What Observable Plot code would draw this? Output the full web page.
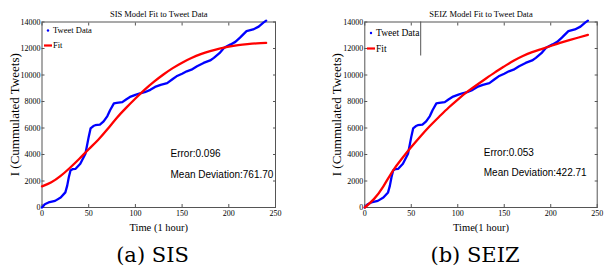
<!DOCTYPE html>
<html><head><meta charset="utf-8">
<script src="https://cdn.jsdelivr.net/npm/d3@7"></script>
<script src="https://cdn.jsdelivr.net/npm/@observablehq/plot@0.6"></script>
<style>
body{margin:0;background:#fff;}
#wrap{position:relative;width:613px;height:272px;overflow:hidden;background:#fff;}
.panel{position:absolute;top:0;}
#over{position:absolute;left:0;top:0;}
</style></head><body>
<div id="wrap"><div id="pa" class="panel" style="left:0px"></div><div id="pb" class="panel" style="left:306px"></div></div>
<script>
// ---- data ----
const tweetHours  = [0,3,7,14,20,25,27,28.7,30.5,33,36,41,46.5,50,52,55,57,62,66,70,73,77,80,86,90,95,100,105,110,116,121,127,134,140,144,150,155,160,166,173,180,184,190,195,202,207,212,219,226,232,237,240];
const tweetCounts = [0,250,380,500,750,1140,1650,2280,2790,2900,2920,3300,4060,5330,5970,6150,6210,6250,6500,6900,7360,7860,7900,7950,8150,8370,8500,8620,8700,8880,9100,9260,9390,9700,9900,10100,10280,10400,10660,10910,11100,11290,11650,12060,12310,12500,12820,13310,13440,13650,13950,14100];
const fitHours = [0,10,20,30,40,50,60,70,80,90,100,110,120,130,140,150,160,170,180,190,200,210,220,230,240];
const sisFit  = [1590,1900,2380,3000,3680,4400,5100,5900,6760,7520,8230,8900,9500,10040,10520,10930,11280,11570,11800,11990,12140,12250,12330,12390,12420];
const seizFit = [0,650,1600,2750,3700,4560,5380,6150,6850,7530,8150,8720,9230,9720,10200,10650,11080,11440,11730,11960,12190,12420,12630,12830,13030];
const xTicks = [0,50,100,150,200,250];
const yTicks = [0,2000,4000,6000,8000,10000,12000,14000];
const titles = ["SIS Model Fit to Tweet Data","SEIZ Model Fit to Tweet Data"];
const xLabels = ["Time (1 hour)","Time(1 hour)"];
const yLabel = "I (Cummulated Tweets)";
const statsA = ["Error:0.096","Mean Deviation:761.70"];
const statsB = ["Error:0.053","Mean Deviation:422.71"];
const legendNames = ["Tweet Data","Fit"];
const captions = ["(a) SIS","(b) SEIZ"];

const tweet = tweetHours.map((t,i)=>({t, v: tweetCounts[i]}));
const fitA = fitHours.map((t,i)=>({t, v: sisFit[i]}));
const fitB = fitHours.map((t,i)=>({t, v: seizFit[i]}));

function panel({width, marginLeft, marginRight, title, xLabel, fit, stats, statAt}) {
  const serif = "Liberation Serif";
  return Plot.plot({
    width, height: 240, marginLeft, marginRight, marginTop: 21.5, marginBottom: 33,
    x: {domain: [0, 250], label: null},
    y: {domain: [0, 14000], label: null},
    style: {fontFamily: serif, fontSize: "8px", background: "transparent", overflow: "visible"},
    marks: [
      Plot.frame({stroke: "#555", strokeWidth: 1}),
      Plot.axisX({ticks: xTicks, tickSize: -3, tickPadding: 6, tickFormat: d => String(d), label: null, fontSize: 8, stroke: "#555"}),
      Plot.axisX({anchor: "top", ticks: xTicks, tickSize: -3, tickFormat: () => "", label: null, stroke: "#555"}),
      Plot.axisY({ticks: yTicks, tickSize: -3, tickPadding: 4.5, tickFormat: d => String(d), label: null, fontSize: 8, stroke: "#555"}),
      Plot.axisY({anchor: "right", ticks: yTicks, tickSize: -3, tickFormat: () => "", label: null, stroke: "#555"}),
      Plot.line(tweet, {x: "t", y: "v", stroke: "#0000ff", strokeWidth: 2.3, curve: "linear"}),
      Plot.line(fit, {x: "t", y: "v", stroke: "#ff0000", strokeWidth: 2.3, curve: "natural"}),
      Plot.text([title], {frameAnchor: "top", dy: -11.5, fontSize: 8.5, fontFamily: serif}),
      Plot.text([xLabel], {frameAnchor: "bottom", textAnchor: "middle", lineAnchor: "middle", dy: 20, fontSize: 10.5, fontFamily: serif}),
      Plot.text([yLabel], {frameAnchor: "left", textAnchor: "middle", lineAnchor: "middle", rotate: -90, dx: -27.5, fontSize: 13, fontFamily: serif}),
      Plot.text(stats, {x: () => statAt[0], y: (d, i) => statAt[1][i], text: d => d, textAnchor: "start", fontFamily: "Liberation Sans", fontSize: 10})
    ]
  });
}

document.getElementById("pa").append(panel({width: 306, marginLeft: 41.5, marginRight: 31, title: titles[0], xLabel: xLabels[0], fit: fitA, stats: statsA, statAt: [137.6, [4075, 2490]]}));
document.getElementById("pb").append(panel({width: 307, marginLeft: 58.3, marginRight: 16.3, title: titles[1], xLabel: xLabels[1], fit: fitB, stats: statsB, statAt: [128, [4128, 2619]]}));

// legends and captions overlay
const ns = "http://www.w3.org/2000/svg";
const over = document.createElementNS(ns, "svg");
over.setAttribute("id", "over"); over.setAttribute("width", 613); over.setAttribute("height", 272);
function el(tag, attrs, txt) { const e = document.createElementNS(ns, tag); for (const k in attrs) e.setAttribute(k, attrs[k]); if (txt) e.textContent = txt; over.appendChild(e); return e; }
// legend A
el("circle", {cx: 48, cy: 30.5, r: 1.2, fill: "#0000ff"});
el("text", {x: 53, y: 33.3, "font-family": "Liberation Serif", "font-size": 8.5}, legendNames[0]);
el("line", {x1: 44, x2: 52, y1: 45.5, y2: 45.5, stroke: "#ff0000", "stroke-width": 2.2});
el("text", {x: 53, y: 48.3, "font-family": "Liberation Serif", "font-size": 8.5}, legendNames[1]);
// legend B
el("line", {x1: 420.7, x2: 420.7, y1: 21.5, y2: 55.5, stroke: "#555", "stroke-width": 1});
el("circle", {cx: 371, cy: 33, r: 1.2, fill: "#0000ff"});
el("text", {x: 376, y: 36.2, "font-family": "Liberation Serif", "font-size": 9.5}, legendNames[0]);
el("line", {x1: 367, x2: 375, y1: 48.5, y2: 48.5, stroke: "#ff0000", "stroke-width": 2.2});
el("text", {x: 376, y: 51.7, "font-family": "Liberation Serif", "font-size": 9.5}, legendNames[1]);
// captions
el("text", {x: 152.5, y: 261.5, "text-anchor": "middle", "font-family": "DejaVu Serif", "font-size": 21}, captions[0]);
el("text", {x: 475, y: 261.5, "text-anchor": "middle", "font-family": "DejaVu Serif", "font-size": 21}, captions[1]);
document.getElementById("wrap").appendChild(over);
</script>
</body></html>
